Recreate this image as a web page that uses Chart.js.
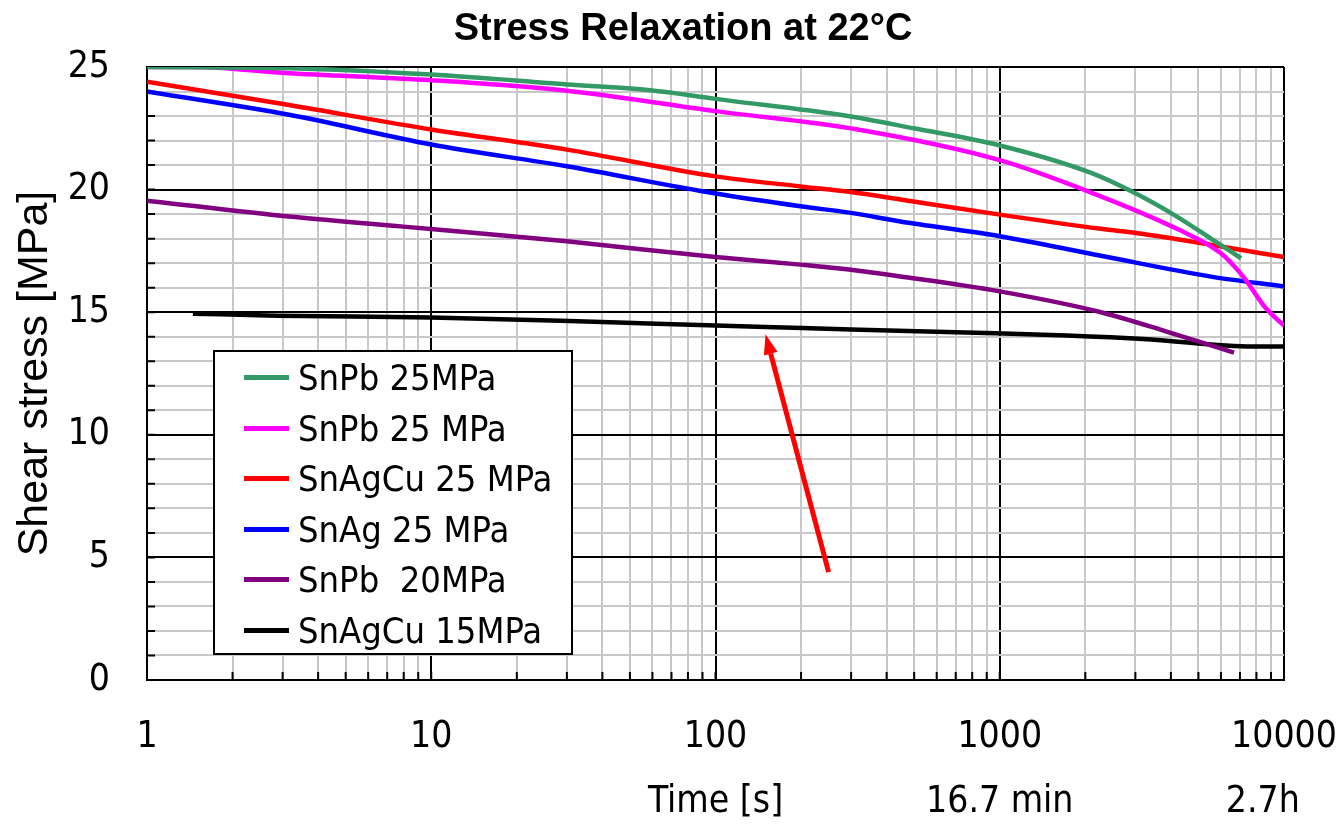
<!DOCTYPE html>
<html>
<head>
<meta charset="utf-8">
<script src="https://cdn.jsdelivr.net/npm/chart.js@4.4.1/dist/chart.umd.min.js"></script>
<style>
  body { margin: 0; background: #fff; }
  #wrap { position: relative; width: 1338px; height: 825px; }
  #title { position: absolute; left: 0; top: 5px; width: 1366px; text-align: center; font: bold 38px/44px "Liberation Sans", sans-serif; color: #000; }
  #legend { position: absolute; left: 213px; top: 350px; width: 356px; height: 301px;
    border: 2px solid #000; background: #fff; font-family: "DejaVu Sans Condensed", "Liberation Sans Narrow", sans-serif;
    font-size: 36px; color: #000; }
  #legend .row { position: absolute; left: 0; height: 50px; white-space: pre; }
  #legend .swatch { position: absolute; left: 29px; top: 22px; width: 45px; height: 5px; }
  #legend .txt { position: absolute; left: 83px; top: 0; line-height: 50px; }
</style>
</head>
<body>
<div id="wrap">
  <canvas id="chart" width="1338" height="825"></canvas>
  <div id="title">Stress Relaxation at 22°C</div>
  <div id="legend"></div>
</div>
<script>
// series labels and colours
const labels = ['SnPb 25MPa', 'SnPb 25 MPa', 'SnAgCu 25 MPa', 'SnAg 25 MPa', 'SnPb  20MPa', 'SnAgCu 15MPa'];
const colors = ['#339966', '#ff00ff', '#ff0000', '#0000ff', '#800080', '#000000'];

// time [s] / shear stress [MPa]
const tSnPb25a = [1, 3.2, 10, 30, 59, 100, 292, 498, 1000, 2075, 2940, 4200, 5530, 7060];
const vSnPb25a = [25.0, 24.95, 24.69, 24.29, 24.05, 23.7, 23.0, 22.5, 21.8, 20.7, 19.9, 18.9, 18.0, 17.2];

const tSnPb25b = [1, 1.45, 3.16, 10, 30, 100, 316, 1000, 2075, 4200, 6000, 7180, 8580, 10000];
const vSnPb25b = [25.0, 25.0, 24.75, 24.46, 24.03, 23.2, 22.45, 21.2, 19.9, 18.4, 17.4, 16.45, 15.2, 14.45];

const tSnAgCu25 = [1, 3.16, 10, 30, 100, 199, 299, 447, 1000, 2270, 3162, 5530, 10000];
const vSnAgCu25 = [24.4, 23.45, 22.45, 21.63, 20.54, 20.13, 19.9, 19.6, 18.98, 18.4, 18.2, 17.75, 17.25];

const tSnAg25 = [1, 3.16, 10, 30, 100, 199, 299, 447, 1000, 2270, 5530, 10000];
const vSnAg25 = [24.0, 23.05, 21.84, 20.95, 19.84, 19.32, 19.05, 18.7, 18.1, 17.3, 16.45, 16.05];

const tSnPb20 = [1, 3.16, 7.8, 30, 100, 199, 299, 447, 1000, 2270, 3890, 6670];
const vSnPb20 = [19.55, 18.9, 18.5, 17.89, 17.25, 16.94, 16.73, 16.46, 15.85, 15.0, 14.2, 13.35];

const tSnAgCu15 = [1.45, 2.86, 10, 28.6, 62, 150, 300, 822, 1720, 3300, 7800, 10000];
const vSnAgCu15 = [14.94, 14.86, 14.78, 14.65, 14.53, 14.4, 14.29, 14.16, 14.05, 13.9, 13.6, 13.6];

// axis ticks
const xTicks = [1, 2, 3, 4, 5, 6, 7, 8, 9, 10, 20, 30, 40, 50, 60, 70, 80, 90, 100, 200, 300, 400, 500, 600, 700, 800, 900,
  1000, 2000, 3000, 4000, 5000, 6000, 7000, 8000, 9000, 10000];
const xLabels = { 1: '1', 10: '10', 100: ['100', 'Time [s]'], 1000: ['1000', '16.7 min'], 10000: ['10000', '2.7h    '] };
const yMajor = [0, 5, 10, 15, 20, 25];

// red arrow annotation: from -> tip, in (time, stress)
const arrowFrom = [250, 4.4];
const arrowTo = [150, 14.1];

const times = [tSnPb25a, tSnPb25b, tSnAgCu25, tSnAg25, tSnPb20, tSnAgCu15];
const values = [vSnPb25a, vSnPb25b, vSnAgCu25, vSnAg25, vSnPb20, vSnAgCu15];

const NARROW = '"DejaVu Sans Condensed", "Liberation Sans Narrow", sans-serif';
const isDecade = v => Math.abs(Math.log10(v) - Math.round(Math.log10(v))) < 1e-9;

const innerTicks = {
  id: 'innerTicks',
  beforeDatasetsDraw(chart) {
    const { ctx, chartArea: a, scales: { x, y } } = chart;
    ctx.save();
    ctx.strokeStyle = '#000';
    ctx.lineWidth = 2;
    ctx.beginPath();
    xTicks.forEach(v => { const px = x.getPixelForValue(v); ctx.moveTo(px, a.bottom); ctx.lineTo(px, a.bottom - 8); });
    for (let v = 0; v <= 25; v++) { const py = y.getPixelForValue(v); ctx.moveTo(a.left, py); ctx.lineTo(a.left + 8, py); }
    ctx.stroke();
    ctx.restore();
  }
};

const arrow = {
  id: 'arrow',
  afterDatasetsDraw(chart) {
    const { ctx, scales: { x, y } } = chart;
    const x0 = x.getPixelForValue(arrowFrom[0]), y0 = y.getPixelForValue(arrowFrom[1]);
    const x1 = x.getPixelForValue(arrowTo[0]), y1 = y.getPixelForValue(arrowTo[1]);
    const ang = Math.atan2(y1 - y0, x1 - x0), head = 20, half = 7;
    const bx = x1 - head * Math.cos(ang), by = y1 - head * Math.sin(ang);
    ctx.save();
    ctx.strokeStyle = ctx.fillStyle = '#ff0000';
    ctx.lineWidth = 5;
    ctx.beginPath(); ctx.moveTo(x0, y0); ctx.lineTo(bx, by); ctx.stroke();
    ctx.beginPath();
    ctx.moveTo(x1, y1);
    ctx.lineTo(bx + half * Math.sin(ang), by - half * Math.cos(ang));
    ctx.lineTo(bx - half * Math.sin(ang), by + half * Math.cos(ang));
    ctx.closePath(); ctx.fill();
    ctx.restore();
  }
};

new Chart(document.getElementById('chart'), {
  type: 'scatter',
  data: {
    datasets: labels.map((l, i) => ({
      label: l,
      data: times[i].map((t, j) => ({ x: t, y: values[i][j] })),
      showLine: true, borderColor: colors[i], backgroundColor: colors[i],
      borderWidth: 4.5, pointRadius: 0, cubicInterpolationMode: 'monotone'
    }))
  },
  options: {
    responsive: false, animation: false, devicePixelRatio: 1,
    layout: { padding: { top: 67, right: 54 } },
    plugins: { legend: { display: false }, tooltip: { enabled: false } },
    scales: {
      x: {
        type: 'logarithmic', min: 1, max: 10000,
        afterBuildTicks: s => { s.ticks = xTicks.map(v => ({ value: v, major: isDecade(v) })); },
        afterFit: s => { s.height = 145; s.paddingLeft = 0; s.paddingRight = 0; },
        ticks: { autoSkip: false, maxRotation: 0, color: '#000', padding: 25,
          font: { family: NARROW, size: 37, lineHeight: 1.757 },
          callback: v => xLabels[v] !== undefined ? xLabels[v] : '' },
        grid: { color: c => isDecade(c.tick.value) ? '#000' : '#c8c8c8', lineWidth: 2, drawTicks: false },
        border: { color: '#000', width: 2 }
      },
      y: {
        min: 0, max: 25,
        afterBuildTicks: s => { s.ticks = Array.from({ length: 26 }, (_, v) => ({ value: v })); },
        afterFit: s => { s.width = 147; s.paddingTop = 0; s.paddingBottom = 0; },
        ticks: { autoSkip: false, color: '#000', padding: 37, font: { family: NARROW, size: 37 },
          callback: v => yMajor.includes(v) ? String(v) : '' },
        grid: { color: c => c.tick.value % 5 === 0 ? '#000' : '#c8c8c8', lineWidth: 2, drawTicks: false },
        border: { color: '#000', width: 2 },
        title: { display: true, text: 'Shear stress [MPa]', color: '#000',
          font: { family: '"Liberation Sans", sans-serif', size: 43 }, padding: { top: 9, bottom: 0 } }
      }
    }
  },
  plugins: [innerTicks, arrow]
});

// legend box drawn from the same labels/colours
const legendEl = document.getElementById('legend');
labels.forEach((l, i) => {
  const row = document.createElement('div');
  row.className = 'row';
  row.style.top = (1 + i * 50.6) + 'px';
  row.innerHTML = `<div class="swatch" style="background:${colors[i]}"></div><div class="txt">${l}</div>`;
  legendEl.appendChild(row);
});
</script>
</body>
</html>
